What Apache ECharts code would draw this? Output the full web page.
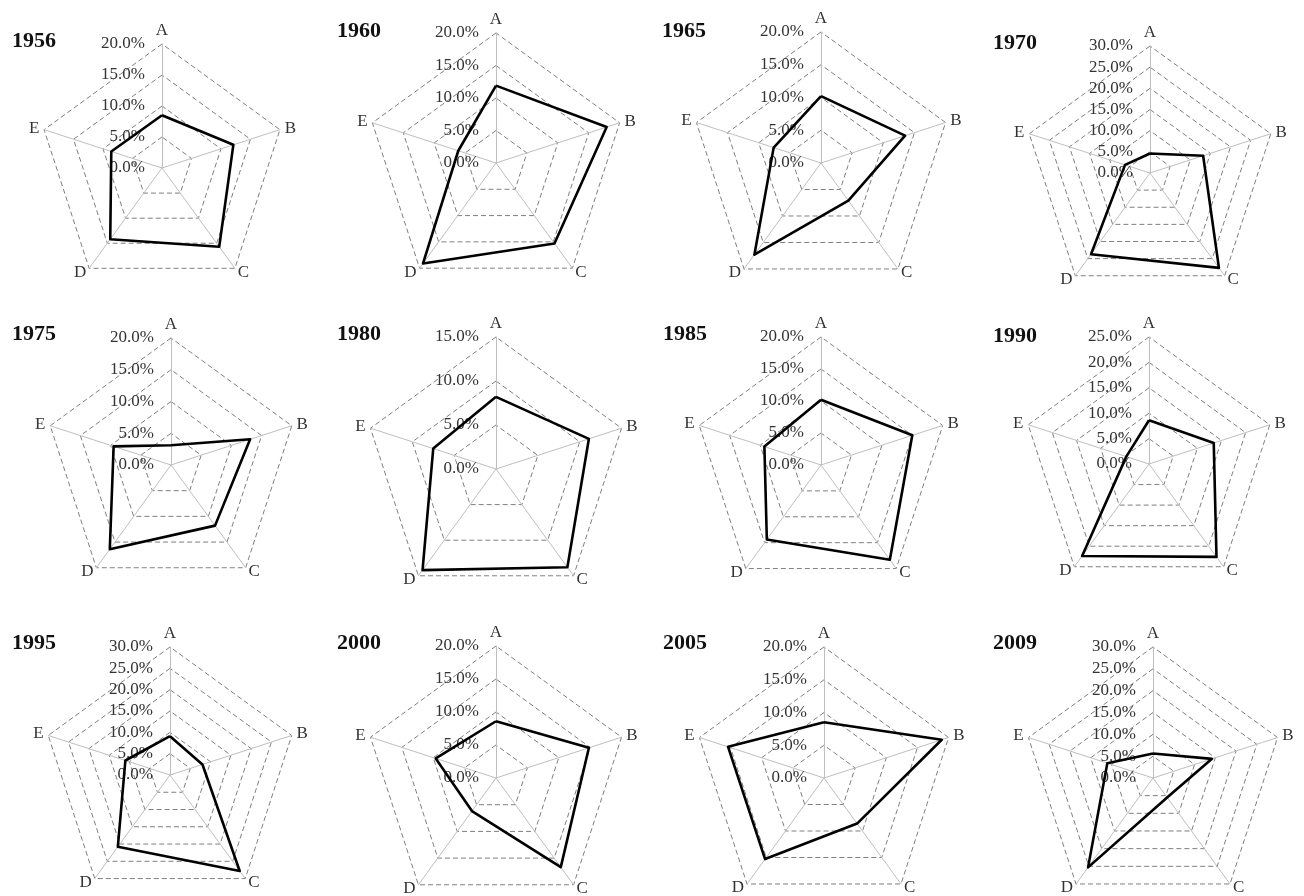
<!DOCTYPE html>
<html>
<head>
<meta charset="utf-8">
<script src="https://cdn.jsdelivr.net/npm/echarts@6/dist/echarts.min.js"></script>
<style>
  html, body { margin: 0; padding: 0; background: #ffffff; }
  #chart { width: 1304px; height: 896px; }
</style>
</head>
<body>
<div id="chart"></div>
<script>
// Panel years and the five indicators
const years = ['1956', '1960', '1965', '1970', '1975', '1980', '1985', '1990', '1995', '2000', '2005', '2009'];
const indicatorNames = ['A', 'B', 'C', 'D', 'E'];

// Outer ring (axis maximum, %) for each year
const axisMax = [20, 20, 20, 30, 20, 15, 20, 25, 30, 20, 20, 30];

// Shares (%) on A, B, C, D, E for each year
const v1956 = [8.5, 12.1, 15.7, 14.2, 8.6];
const v1960 = [11.9, 17.9, 15.3, 19.1, 6.1];
const v1965 = [10.2, 13.5, 7.1, 17.3, 7.6];
const v1970 = [4.6, 13.2, 27.7, 23.7, 6.2];
const v1975 = [3.1, 13.1, 11.8, 16.4, 9.5];
const v1980 = [8.2, 11.1, 13.8, 14.2, 7.5];
const v1985 = [10.2, 15.0, 18.3, 14.4, 9.3];
const v1990 = [8.6, 13.4, 22.6, 22.4, 4.7];
const v1995 = [9.1, 8.0, 27.8, 20.8, 11.0];
const v2000 = [8.6, 14.8, 16.7, 6.2, 9.6];
const v2005 = [8.5, 18.9, 8.6, 15.3, 15.4];
const v2009 = [5.6, 14.2, 5.5, 25.3, 11.0];
const seriesValues = [v1956, v1960, v1965, v1970, v1975, v1980, v1985, v1990, v1995, v2000, v2005, v2009];

// Panel geometry: radar centre, radius and title anchor (pixels)
const layout = [
  { cx: 162, cy: 168, r: 124, tx: 12,  ty: 30 },
  { cx: 496, cy: 163, r: 130, tx: 337, ty: 20 },
  { cx: 821, cy: 163, r: 131, tx: 662, ty: 20 },
  { cx: 1150, cy: 173, r: 127, tx: 993, ty: 32 },
  { cx: 171, cy: 465, r: 127, tx: 12,  ty: 323 },
  { cx: 496, cy: 469, r: 132, tx: 337, ty: 323 },
  { cx: 821, cy: 465, r: 128, tx: 663, ty: 323 },
  { cx: 1149, cy: 464, r: 127, tx: 993, ty: 325 },
  { cx: 170, cy: 775, r: 128, tx: 12,  ty: 632 },
  { cx: 496, cy: 778, r: 132, tx: 337, ty: 632 },
  { cx: 824, cy: 778, r: 131, tx: 663, ty: 632 },
  { cx: 1153, cy: 778, r: 131, tx: 993, ty: 632 }
];

// ECharts lays radar indicators out counter-clockwise; walk them as
// A, E, D, C, B so that A, B, C, D, E read clockwise from the top.
const clockwiseOrder = [0, 4, 3, 2, 1];

const serif = 'Liberation Serif';
const textGrey = '#333333';

const radars = years.map((y, i) => ({
  center: [layout[i].cx, layout[i].cy],
  radius: layout[i].r,
  startAngle: 90,
  shape: 'polygon',
  splitNumber: axisMax[i] / 5,
  indicator: clockwiseOrder.map((k, pos) => {
    const ind = { name: indicatorNames[k], min: 0, max: axisMax[i] };
    if (pos === 0) {
      ind.axisLabel = {
        show: true,
        margin: 17,
        color: textGrey,
        fontFamily: serif,
        fontSize: 17,
        formatter: v => v.toFixed(1) + '%'
      };
    }
    return ind;
  }),
  axisName: { color: textGrey, fontFamily: serif, fontSize: 17 },
  nameGap: 5,
  axisLine: { show: true, lineStyle: { color: '#bfbfbf', width: 1 } },
  axisTick: { show: false },
  axisLabel: { show: false },
  splitLine: { show: true, lineStyle: { color: '#7f7f7f', width: 1, type: [5, 3] } },
  splitArea: { show: false }
}));

const titles = years.map((y, i) => ({
  text: y,
  left: layout[i].tx,
  top: layout[i].ty,
  padding: 0,
  textStyle: { fontFamily: serif, fontSize: 22, fontWeight: 'bold', color: '#111111' }
}));

const series = years.map((y, i) => ({
  type: 'radar',
  radarIndex: i,
  symbol: 'none',
  silent: true,
  lineStyle: { color: '#000000', width: 2.6 },
  data: [{ value: clockwiseOrder.map(k => seriesValues[i][k]), name: y }]
}));

const chart = echarts.init(document.getElementById('chart'), null, { renderer: 'canvas' });
chart.setOption({
  backgroundColor: '#ffffff',
  animation: false,
  title: titles,
  radar: radars,
  series: series
});
</script>
</body>
</html>
